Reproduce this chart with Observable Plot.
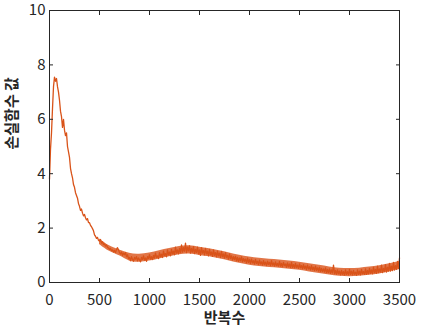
<!DOCTYPE html>
<html>
<head>
<meta charset="utf-8">
<script src="https://cdn.jsdelivr.net/npm/d3@7"></script>
<script src="https://cdn.jsdelivr.net/npm/@observablehq/plot@0.6"></script>
<style>
  html, body { margin: 0; padding: 0; background: #fff; }
  #chart { width: 421px; height: 332px; }
</style>
</head>
<body>
<div id="chart"></div>
<script>
// iteration step between samples
const step = 10;
// loss values, one every 10 iterations (0..3500)
const loss = [
  3.8, 4.9, 5.5, 6.4, 7.2, 7.55, 7.4, 7.5, 7.2, 7.0,
  6.7, 6.3, 6.1, 5.7, 6.0, 5.6, 5.4, 5.5, 5.0, 4.8,
  4.6, 4.2, 4.0, 3.85, 3.6, 3.5, 3.3, 3.2, 3.1, 2.9,
  2.8, 2.65, 2.7, 2.55, 2.45, 2.5, 2.38, 2.3, 2.35, 2.2,
  2.2, 2.1, 2.05, 1.98, 1.9, 1.75, 1.7, 1.62, 1.66, 1.55,
  1.52, 1.58, 1.45, 1.5, 1.4, 1.42, 1.34, 1.38, 1.3, 1.27,
  1.22, 1.25, 1.17, 1.2, 1.12, 1.18, 1.1, 1.22, 1.28, 1.2,
  1.1, 1.05, 1.12, 1.0, 1.08, 1.02, 1.1, 0.95, 1.02, 0.88,
  0.92, 0.8, 0.95, 0.85, 0.78, 0.92, 0.86, 0.95, 0.8, 0.9,
  0.84, 0.76, 0.92, 0.85, 0.98, 0.82, 0.9, 0.78, 0.95, 0.88,
  1.02, 0.86, 0.95, 0.84, 1.0, 0.9, 1.08, 0.92, 0.98, 0.88,
  1.1, 0.95, 1.04, 0.92, 1.15, 1.0, 1.06, 0.94, 1.2, 1.02,
  1.12, 0.98, 1.22, 1.05, 1.15, 1.02, 1.3, 1.08, 1.2, 1.05,
  1.25, 1.1, 1.38, 1.12, 1.28, 1.15, 1.45, 1.1, 1.3, 1.16,
  1.35, 1.08, 1.25, 1.12, 1.32, 1.06, 1.22, 1.1, 1.3, 1.05,
  1.2, 1.0, 1.28, 1.08, 1.18, 1.02, 1.25, 1.05, 1.15, 0.98,
  1.22, 1.02, 1.12, 0.96, 1.2, 1.0, 1.1, 0.94, 1.15, 0.98,
  1.08, 0.92, 1.14, 0.95, 1.05, 0.9, 1.1, 0.92, 1.0, 0.86,
  1.05, 0.88, 0.98, 0.82, 0.95, 0.84, 0.96, 0.8, 0.92, 0.78,
  0.9, 0.8, 0.94, 0.76, 0.88, 0.78, 0.86, 0.72, 0.9, 0.74,
  0.84, 0.7, 0.86, 0.72, 0.8, 0.68, 0.85, 0.7, 0.78, 0.66,
  0.82, 0.68, 0.76, 0.64, 0.8, 0.66, 0.75, 0.62, 0.78, 0.66,
  0.74, 0.62, 0.8, 0.64, 0.72, 0.6, 0.76, 0.62, 0.7, 0.6,
  0.78, 0.6, 0.7, 0.58, 0.74, 0.62, 0.68, 0.56, 0.72, 0.58,
  0.68, 0.55, 0.74, 0.56, 0.66, 0.54, 0.7, 0.55, 0.64, 0.52,
  0.68, 0.54, 0.62, 0.5, 0.66, 0.52, 0.6, 0.48, 0.64, 0.5,
  0.58, 0.46, 0.62, 0.47, 0.56, 0.44, 0.6, 0.45, 0.54, 0.42,
  0.56, 0.4, 0.52, 0.4, 0.5, 0.38, 0.54, 0.36, 0.48, 0.36,
  0.5, 0.34, 0.46, 0.35, 0.64, 0.32, 0.44, 0.3, 0.46, 0.32,
  0.42, 0.28, 0.44, 0.3, 0.4, 0.27, 0.46, 0.3, 0.4, 0.28,
  0.48, 0.3, 0.42, 0.28, 0.44, 0.3, 0.38, 0.26, 0.46, 0.3,
  0.42, 0.28, 0.48, 0.32, 0.4, 0.3, 0.5, 0.3, 0.44, 0.32,
  0.52, 0.34, 0.46, 0.32, 0.56, 0.36, 0.48, 0.34, 0.6, 0.36,
  0.5, 0.38, 0.64, 0.36, 0.52, 0.4, 0.66, 0.38, 0.56, 0.42,
  0.7, 0.42, 0.6, 0.44, 0.74, 0.46, 0.62, 0.48, 0.78, 0.52,
  0.9
];
// noise envelope, every 100 iterations from 500 to 3500
const bandIter = [500, 600, 700, 800, 900, 1000, 1100, 1200, 1300, 1400, 1500,
  1600, 1700, 1800, 1900, 2000, 2100, 2200, 2300, 2400, 2500,
  2600, 2700, 2800, 2900, 3000, 3100, 3200, 3300, 3400, 3500];
const bandLow = [1.4, 1.12, 1.0, 0.76, 0.73, 0.78, 0.87, 0.95, 1.03, 1.07, 0.99,
  0.95, 0.87, 0.79, 0.7, 0.63, 0.59, 0.55, 0.53, 0.49, 0.45,
  0.39, 0.33, 0.27, 0.22, 0.21, 0.22, 0.27, 0.31, 0.39, 0.47];
const bandHigh = [1.6, 1.32, 1.2, 1.05, 1.03, 1.08, 1.17, 1.25, 1.33, 1.37, 1.29,
  1.25, 1.17, 1.09, 1.0, 0.93, 0.89, 0.85, 0.83, 0.79, 0.75,
  0.69, 0.63, 0.57, 0.52, 0.51, 0.52, 0.57, 0.61, 0.69, 0.77];
const xTicks = [0, 500, 1000, 1500, 2000, 2500, 3000, 3500];
const yTicks = [0, 2, 4, 6, 8, 10];
const xTitle = "반복수";
const yTitle = "손실함수 값";

const data = loss.map((v, i) => ({iter: i * step, loss: v}));
const band = bandIter.map((it, i) => ({iter: it, lo: bandLow[i], hi: bandHigh[i]}));
const ink = "#262626";
const orange = "#D95319";
const font = "'Noto Sans CJK KR', 'Noto Sans', sans-serif";

const chart = Plot.plot({
  width: 421,
  height: 332,
  marginLeft: 49,
  marginRight: 22,
  marginTop: 10,
  marginBottom: 50,
  style: {fontFamily: font, fontSize: "15px", color: ink, background: "#fff", overflow: "visible"},
  x: {domain: [0, 3500]},
  y: {domain: [0, 10]},
  marks: [
    Plot.areaY(band, {x: "iter", y1: "lo", y2: "hi", fill: orange, fillOpacity: 0.8, curve: "basis"}),
    Plot.lineY(data, {x: "iter", y: "loss", stroke: orange, strokeWidth: 1.3}),
    Plot.frame({stroke: ink, strokeWidth: 1}),
    Plot.axisX(xTicks, {anchor: "bottom", tickSize: -4, tickPadding: 16, tickFormat: d3.format("d"), label: null, stroke: ink, fill: ink}),
    Plot.axisX(xTicks, {anchor: "top", tickSize: -4, tickFormat: () => "", label: null, stroke: ink}),
    Plot.axisY(yTicks, {anchor: "left", tickSize: -4, tickPadding: 8, tickFormat: d3.format("d"), label: null, stroke: ink, fill: ink}),
    Plot.axisY(yTicks, {anchor: "right", tickSize: -4, tickFormat: () => "", label: null, stroke: ink}),
    Plot.text([xTitle], {frameAnchor: "bottom", dy: 40, fontWeight: "bold", fontSize: 15, fill: ink}),
    Plot.text([yTitle], {frameAnchor: "left", dx: -37, dy: 3, rotate: -90, fontWeight: "bold", fontSize: 15, fill: ink})
  ]
});
document.getElementById("chart").appendChild(chart);
</script>
</body>
</html>
